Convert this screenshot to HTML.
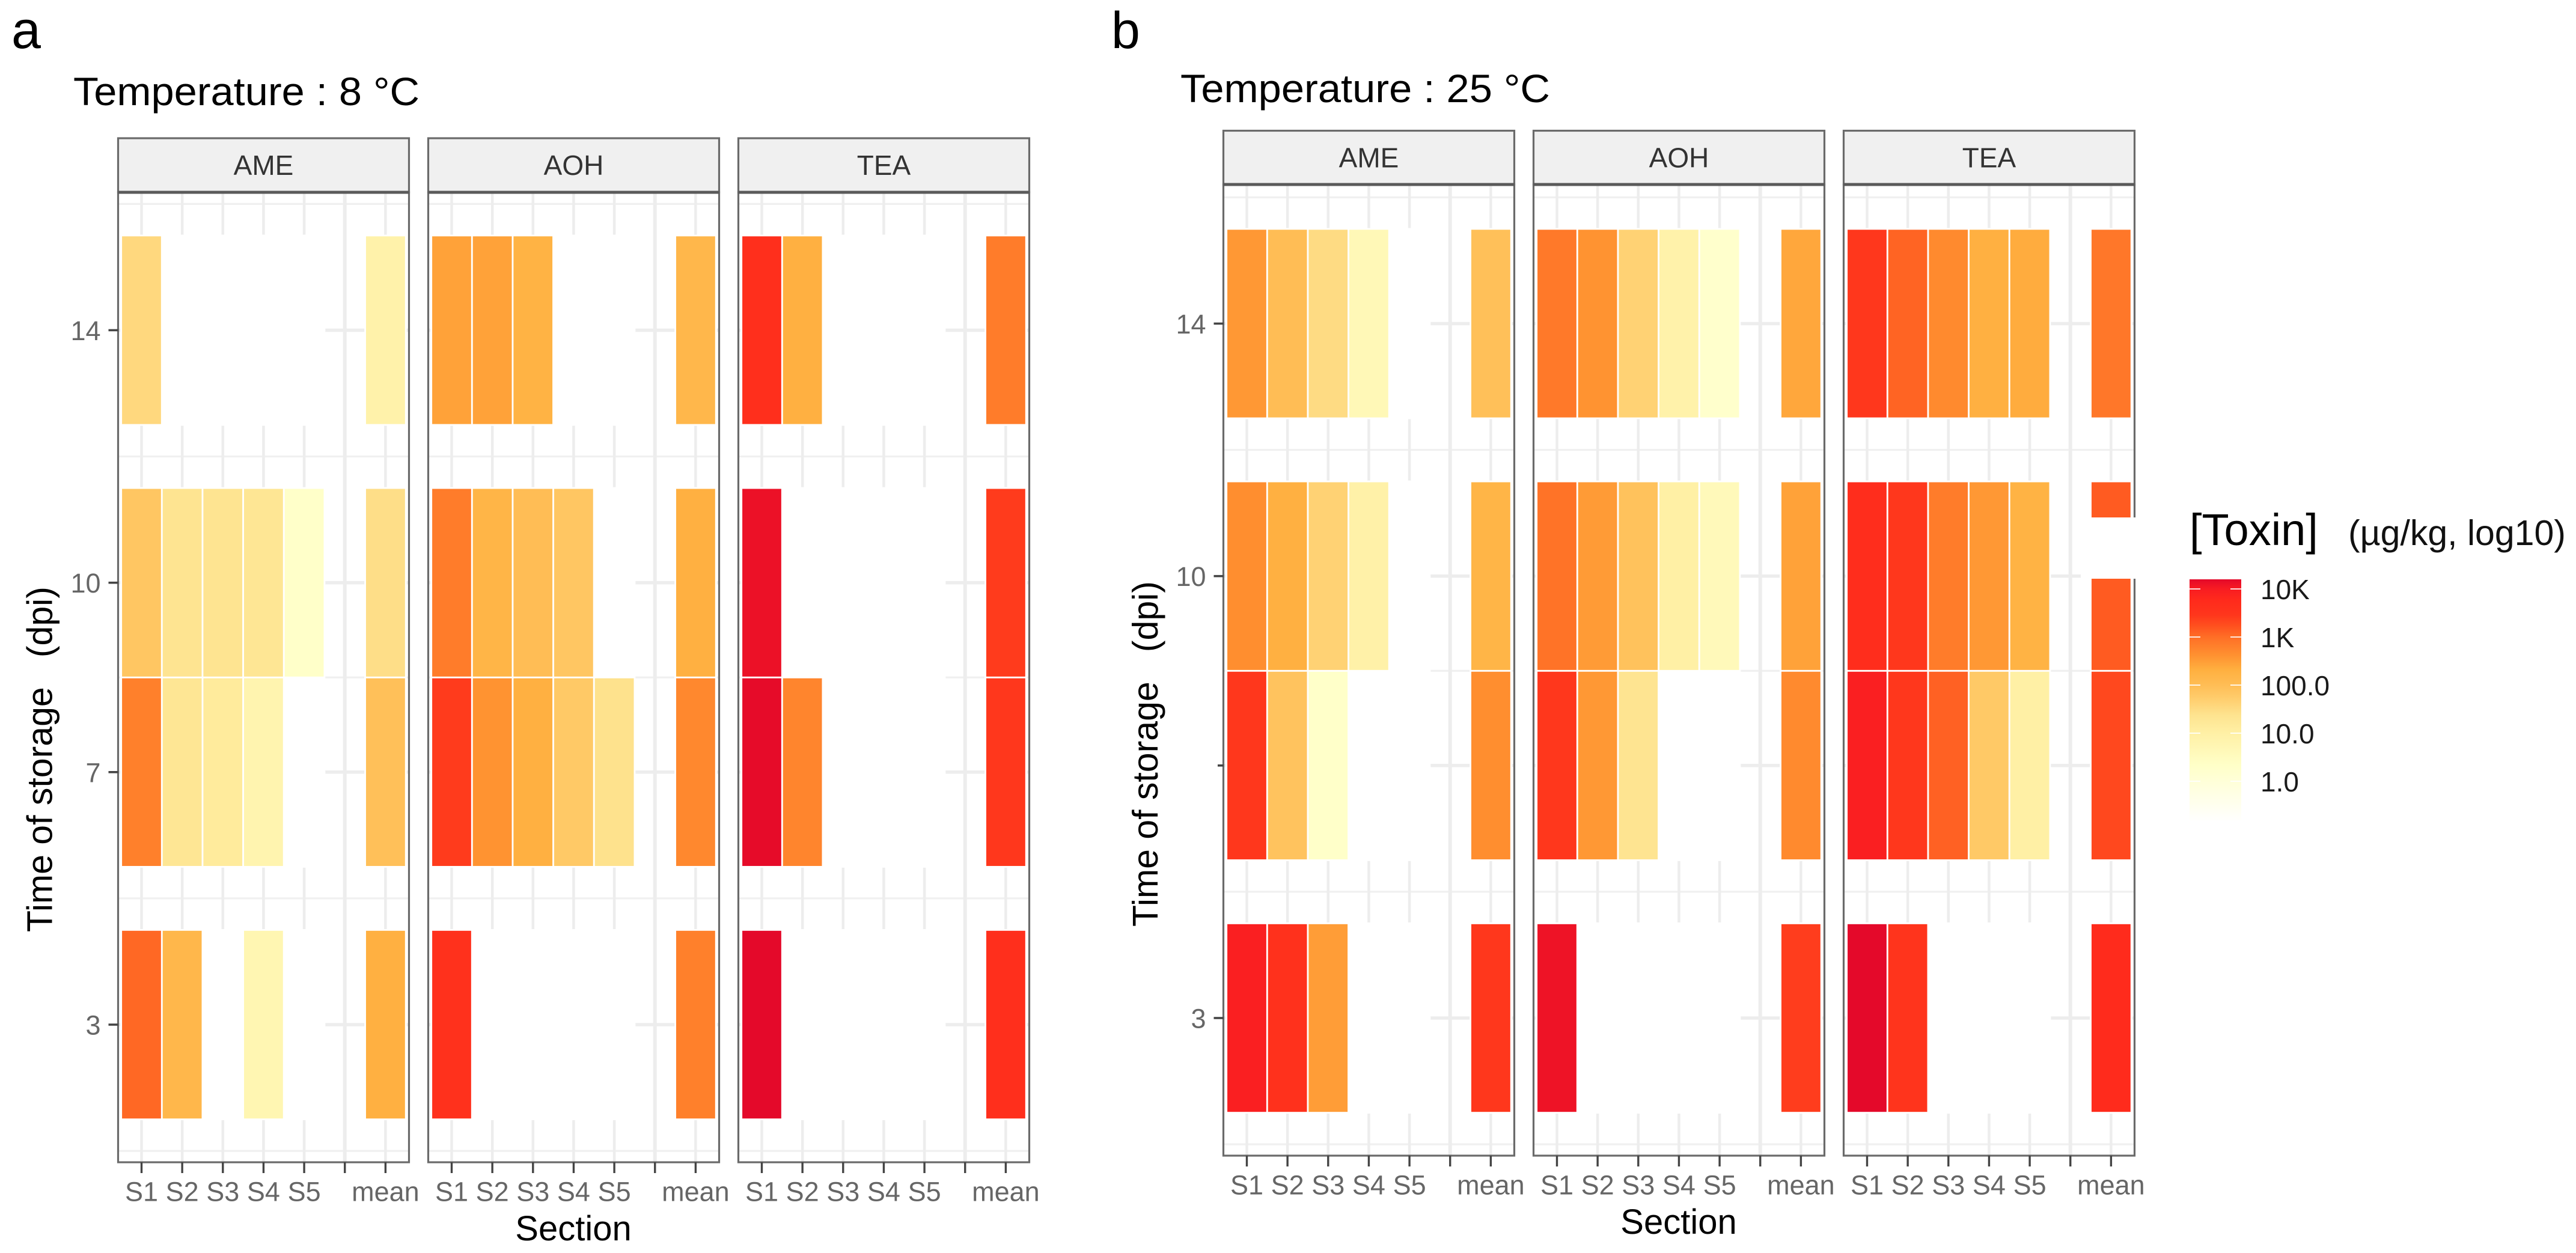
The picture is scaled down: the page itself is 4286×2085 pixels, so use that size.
<!DOCTYPE html>
<html lang="en">
<head>
<meta charset="utf-8">
<title>Toxin heatmaps by section and time of storage</title>
<style>
html,body{margin:0;padding:0;background:#fff;overflow:hidden}
svg{display:block}
text{font-family:"Liberation Sans",sans-serif;white-space:pre}
</style>
</head>
<body>
<svg id="chart" xmlns="http://www.w3.org/2000/svg" width="4286" height="2085" viewBox="0 0 4286 2085">
  <rect x="0" y="0" width="4286" height="2085" fill="#ffffff"/>
  <text x="19" y="80" font-size="88" fill="#000">a</text>
  <text x="1849" y="80" font-size="86" fill="#000">b</text>
  <text x="122" y="175" font-size="66" fill="#000" textLength="576" lengthAdjust="spacingAndGlyphs">Temperature : 8 °C</text>
  <text x="1964" y="170" font-size="66" fill="#000" textLength="615" lengthAdjust="spacingAndGlyphs">Temperature : 25 °C</text>
  <text transform="translate(86.5,1551) rotate(-90)" font-size="59" fill="#000">Time of storage   (dpi)</text>
  <text transform="translate(1926,1542) rotate(-90)" font-size="59" fill="#000">Time of storage   (dpi)</text>
  <text x="954" y="2064" font-size="58" text-anchor="middle" fill="#000">Section</text>
  <text x="2793" y="2053" font-size="58" text-anchor="middle" fill="#000">Section</text>
  <g id="panels"></g>
  <rect x="3462" y="861" width="200" height="102" fill="#ffffff"/>
  <rect x="1950" y="1245" width="76" height="60" fill="#ffffff"/>
  <text x="3643" y="907" font-size="74" fill="#000">[Toxin]</text>
  <text x="3907" y="907" font-size="59" fill="#111">(µg/kg, log10)</text>
  <g id="legend"></g>
</svg>
<script>
// ---- categories ----
const days = [3, 7, 10, 14];
const sections = ['S1', 'S2', 'S3', 'S4', 'S5', '', 'mean'];
const toxins = ['AME', 'AOH', 'TEA'];

// ---- series values: log10 toxin, rows by day (3, 7, 10, 14), columns by section ----
const temp8AME = [
  [3.05, 2.15, null, 0.75, null, null, 2.3],
  [2.8, 1.3, 1.15, 0.8, null, null, 1.95],
  [1.85, 1.35, 1.35, 1.3, 0.3, null, 1.45],
  [1.55, null, null, null, null, null, 0.9]
];
const temp8AOH = [
  [3.6, null, null, null, null, null, 2.8],
  [3.42, 2.6, 2.3, 1.8, 1.4, null, 2.72],
  [2.85, 2.2, 2.0, 1.85, null, null, 2.3],
  [2.45, 2.45, 2.25, null, null, null, 2.15]
];
const temp8TEA = [
  [4.25, null, null, null, null, null, 3.65],
  [4.18, 2.75, null, null, null, null, 3.45],
  [4.12, null, null, null, null, null, 3.42],
  [3.65, 2.3, null, null, null, null, 2.85]
];
const temp25AME = [
  [3.95, 3.6, 2.5, null, null, null, 3.45],
  [3.45, 1.9, 0.3, null, null, null, 2.65],
  [2.65, 2.3, 1.65, 0.95, null, null, 2.2],
  [2.55, 2.0, 1.5, 0.65, null, null, 1.95]
];
const temp25AOH = [
  [4.1, null, null, null, null, null, 3.4],
  [3.45, 2.55, 1.35, null, null, null, 2.7],
  [2.95, 2.52, 1.92, 1.0, 0.6, null, 2.45],
  [2.88, 2.6, 1.65, 0.9, 0.25, null, 2.4]
];
const temp25TEA = [
  [4.25, 3.5, null, null, null, null, 3.75],
  [3.95, 3.45, 3.1, 1.8, 1.0, null, 3.3],
  [3.7, 3.45, 2.85, 2.55, 2.25, null, 3.15],
  [3.45, 3.08, 2.7, 2.3, 2.35, null, 2.9]
];

// ---- tick labels ----
const yTickLabels = ['3', '7', '10', '14'];
const minorDays = [1, 5, 8.5, 12, 16];
const legendTickValues = [0, 1, 2, 3, 4];
const legendTickLabels = ['1.0', '10.0', '100.0', '1K', '10K'];

// ---- colour scale ----
const scaleLogs = [-0.85, 0, 0.33, 1, 1.38, 1.69, 2, 2.31, 2.63, 3, 3.25, 3.46, 3.77, 4, 4.2];
const scaleColors = ['#ffffff', '#ffffd8', '#ffffc8', '#fff0a5', '#fee38f', '#ffcf70', '#ffbd55', '#ffb040', '#ff9030', '#ff6e26', '#ff4e1e', '#ff361c', '#ff2a1c', '#f81c22', '#e4092a'];

const NS = 'http://www.w3.org/2000/svg';
function mk(tag, attrs, parent, txt) {
  const el = document.createElementNS(NS, tag);
  for (const k in attrs) el.setAttribute(k, attrs[k]);
  if (txt !== undefined) el.textContent = txt;
  parent.appendChild(el);
  return el;
}
function hex(c) { return [1, 3, 5].map(i => parseInt(c.substr(i, 2), 16)); }
function colorOf(v) {
  if (v <= scaleLogs[0]) return scaleColors[0];
  for (let i = 1; i < scaleLogs.length; i++) {
    if (v <= scaleLogs[i]) {
      const t = (v - scaleLogs[i - 1]) / (scaleLogs[i] - scaleLogs[i - 1]);
      const a = hex(scaleColors[i - 1]), b = hex(scaleColors[i]);
      return 'rgb(' + a.map((x, j) => Math.round(x + (b[j] - x) * t)).join(',') + ')';
    }
  }
  return scaleColors[scaleColors.length - 1];
}

const CELL_W = 67.65, DAY_H = 105.05, PANEL_W = 484, PANEL_STEP = 516, TILE_DAYS = 3;
function xScale(left, i) { return left + 39 + CELL_W * i; }
function yScale(y3, d) { return y3 - (d - 3) * DAY_H; }

const root = document.getElementById('panels');

function drawFacet(fig, left, y3, stripTop, stripBottom, bottom, name, rows, showY) {
  const g = mk('g', {}, root);
  
  
  const right = left + PANEL_W;

  const bg = mk('rect', { x: left, y: stripBottom, width: PANEL_W, height: bottom - stripBottom, fill: '#fff' }, g);
  
  

  minorDays.forEach(d => {
    const l = mk('line', { x1: left, x2: right, y1: yScale(y3, d), y2: yScale(y3, d), stroke: '#f0f0f0', 'stroke-width': 3.2 }, g);
    
    
  });
  days.forEach(d => {
    const l = mk('line', { x1: left, x2: right, y1: yScale(y3, d), y2: yScale(y3, d), stroke: '#ededed', 'stroke-width': 5.5 }, g);
    
    
  });
  sections.forEach((s, i) => {
    const l = mk('line', { x1: xScale(left, i), x2: xScale(left, i), y1: stripBottom, y2: bottom, stroke: '#ededed', 'stroke-width': s === '' ? 6 : 4.5 }, g);
    
    
  });

  days.forEach((d, r) => {
    sections.forEach((s, c) => {
      if (s === '') return;
      const v = rows[r][c];
      const t = mk('rect', {
        x: xScale(left, c) - CELL_W / 2,
        y: yScale(y3, d) - TILE_DAYS * DAY_H / 2,
        width: CELL_W,
        height: TILE_DAYS * DAY_H,
        fill: v === null ? '#ffffff' : colorOf(v),
        stroke: '#ffffff',
        'stroke-width': 2.8
      }, g);
      
      
    });
  });

  const border = mk('rect', { x: left, y: stripBottom, width: PANEL_W, height: bottom - stripBottom, fill: 'none', stroke: '#6a6a6a', 'stroke-width': 3.2 }, g);
  
  

  const strip = mk('rect', { x: left, y: stripTop, width: PANEL_W, height: stripBottom - stripTop, fill: '#f0f0f0', stroke: '#6a6a6a', 'stroke-width': 3.2 }, g);
  
  
  const sb = mk('line', { x1: left, x2: right, y1: stripBottom, y2: stripBottom, stroke: '#5a5a5a', 'stroke-width': 5 }, g);
  
  
  const st = mk('text', { x: left + PANEL_W / 2, y: (stripTop + stripBottom) / 2 + 16, 'font-size': 46, 'text-anchor': 'middle', fill: '#333' }, g, name);
  
  

  sections.forEach((s, i) => {
    const tk = mk('line', { x1: xScale(left, i), x2: xScale(left, i), y1: bottom, y2: bottom + 18, stroke: '#444', 'stroke-width': 3.4 }, g);
    
    
    if (s !== '') {
      const lb = mk('text', { x: xScale(left, i), y: bottom + 64.5, 'font-size': 45, 'text-anchor': 'middle', fill: '#666' }, g, s);
      
      
    }
  });

  if (showY) {
    days.forEach((d, r) => {
      const tk = mk('line', { x1: left - 16, x2: left, y1: yScale(y3, d), y2: yScale(y3, d), stroke: '#444', 'stroke-width': 3.6 }, g);
      
      
      const lb = mk('text', { x: left - 29, y: yScale(y3, d) + 16.5, 'font-size': 45, 'text-anchor': 'end', fill: '#666' }, g, yTickLabels[r]);
      
      
    });
  }
}

const temp8Rows = [temp8AME, temp8AOH, temp8TEA];
const temp25Rows = [temp25AME, temp25AOH, temp25TEA];
toxins.forEach((name, i) => {
  drawFacet('panel-a', 196.5 + i * PANEL_STEP, 1705, 230, 320, 1934, name, temp8Rows[i], i === 0);
  drawFacet('panel-b', 2035.5 + i * PANEL_STEP, 1694, 217.5, 307, 1923, name, temp25Rows[i], i === 0);
});

// ---- legend ----
const legend = document.getElementById('legend');
const LEG_X = 3643, LEG_W = 86, LEG_Y1 = 1300, LEG_UNIT = 80;
const logMin = scaleLogs[0], logMax = scaleLogs[scaleLogs.length - 1];
function legendY(v) { return LEG_Y1 - LEG_UNIT * v; }
const defs = mk('defs', {}, legend);
const grad = mk('linearGradient', { id: 'legendGradient', x1: 0, y1: 1, x2: 0, y2: 0 }, defs);
scaleLogs.forEach((v, i) => {
  mk('stop', { offset: (v - logMin) / (logMax - logMin), 'stop-color': scaleColors[i] }, grad);
});
const bar = mk('rect', { x: LEG_X, y: legendY(logMax), width: LEG_W, height: legendY(logMin) - legendY(logMax), fill: 'url(#legendGradient)' }, legend);


legendTickValues.forEach((v, i) => {
  const y = legendY(v);
  const a = mk('line', { x1: LEG_X, x2: LEG_X + 18, y1: y, y2: y, stroke: '#ffffff', 'stroke-width': 2, 'stroke-opacity': 0.85 }, legend);
  
  
  const b = mk('line', { x1: LEG_X + LEG_W - 18, x2: LEG_X + LEG_W, y1: y, y2: y, stroke: '#ffffff', 'stroke-width': 2, 'stroke-opacity': 0.85 }, legend);
  
  
  const t = mk('text', { x: 3761, y: y + 17, 'font-size': 46, fill: '#1a1a1a' }, legend, legendTickLabels[i]);
  
  
});
</script>
</body>
</html>
